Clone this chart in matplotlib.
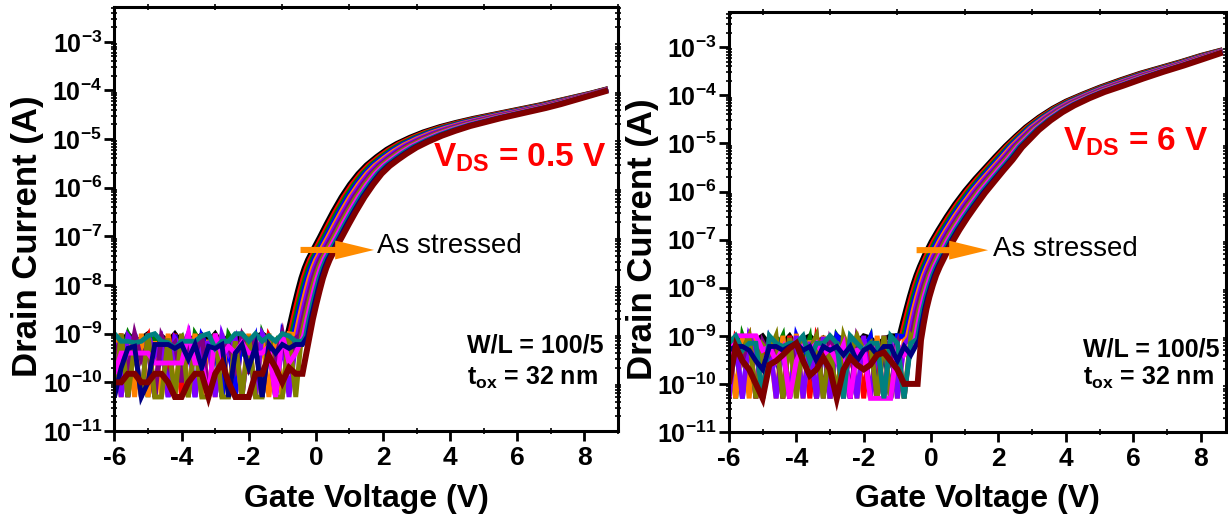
import matplotlib
matplotlib.use("Agg")
import matplotlib.pyplot as plt
from matplotlib.patches import FancyArrowPatch
from matplotlib.ticker import FixedLocator, LogLocator, MultipleLocator, NullFormatter
import numpy as np

plt.rcParams['font.family'] = ['Liberation Sans', 'DejaVu Sans']
plt.rcParams['font.weight'] = 'bold'
plt.rcParams['axes.labelweight'] = 'bold'
plt.rcParams['mathtext.default'] = 'regular'
plt.rcParams['axes.unicode_minus'] = False

# curve colours in stress order (first = fresh device, last = most stressed)
colors = ['#000000', '#FF0000', '#008000', '#0000FF', '#FF8000', '#8000FF',
          '#800080', '#808000', '#FF00FF', '#008080', '#000080', '#800000']
# how far each curve has moved from the fresh curve towards the last one
stress_frac = [0.0, 0.1, 0.19, 0.28, 0.37, 0.46, 0.55, 0.64, 0.73, 0.82, 0.91, 1.0]

# off-state current, one char per 0.2 V step from -6 V
# value = (int(c, 36) + 1) * 5e-11 A  ('0' = 5e-11, 'j' = 1e-9)
vg_off_start = -6.0
vg_off_step = 0.2

left_off = [
    "hcjdfjbhdjcgeidjbhcjdgjfbhjdj",
    "5j0f9h0c3j0e7b0i5d0j2f0h9c0j0",
    "b6j9d0j5c9f0jb6d0ia7c0j8d0h50",
    "9c0j6a0f0i3c0h9b0e0j5f0c0j7a0",
    "j0f0j0d0j0h0j0e0j0b0j0i0f0j00",
    "c0hb0j6e0f9j0bc0i7f0d0jb0f0c0",
    "7d2j5b0h8c1f6j0d9b3h7e0c5j2f9",
    "0j0a0j00f0j0b00j00d0h00j00j00",
    "27777744444j440j6a7c777a0j470",
    "jddcdhjdc9dddhj9ddjjdjdhdjhdd",
    "039a01bbb9b5b3a9b07b3a0b7b9bb",
    "11221122100122024100022631322",
]
right_off = [
    "dhjbfjchdjbgjdhcjfbdjhcgjdjbf",
    "0h9j0c5f0j3d0i7b0j5e0h2c0f8j0",
    "d0j7b0e9j0c6h0f0jb0d8i0c0j7e0",
    "7b0jc0f5h0j8b0e0jd0c9i0f0j6b0",
    "j0h0k0d0j0l0f0j0e0k0c0j0h0f00",
    "0f0j90h0c0j0e0i0b0f0j0d0h0c00",
    "9c5j0e7b0h3d9j0f6c0i8b0j5d0f0",
    "7d9j0c8j0h0f9j0b0j7j9d0j0c0j0",
    "5jjjj9b5a05b9d7a5c09a0000c7b0",
    "dj9dd0jdbddj5ddjd0jd9dd0jd0dd",
    "9bb953bb9bd9b5b9b7b59b7bb5b7b",
    "1b5310457ad523630364347853111",
]

# on-state branch, fresh curve and most stressed curve: Vg (V), log10(Id)
left_fresh_vg = [-0.85, -0.75, -0.65, -0.55, -0.45, -0.35, -0.25, -0.1, 0.1, 0.3,
                 0.5, 0.75, 1.0, 1.25, 1.5, 1.8, 2.1, 2.4, 2.8, 3.2,
                 3.7, 4.2, 4.7, 5.2, 5.7, 6.2, 6.7, 7.2, 7.7, 8.2, 8.7]
left_fresh_log = [-9.0, -8.7, -8.4, -8.12, -7.86, -7.65, -7.48, -7.28, -7.02, -6.75,
                  -6.49, -6.19, -5.93, -5.71, -5.53, -5.36, -5.21, -5.09, -4.96, -4.85,
                  -4.74, -4.65, -4.57, -4.5, -4.43, -4.36, -4.29, -4.21, -4.13, -4.05, -3.96]
left_last_vg = [-0.19, -0.09, 0.01, 0.11, 0.21, 0.31, 0.41, 0.56, 0.77, 0.98,
                1.19, 1.45, 1.71, 1.96, 2.2, 2.45, 2.7, 3.0, 3.35, 3.75,
                4.15, 4.6, 5.05, 5.5, 5.95, 6.4, 6.85, 7.3, 7.75, 8.2, 8.7]
left_last_log = [-9.06, -8.7, -8.4, -8.12, -7.86, -7.65, -7.48, -7.28, -7.02, -6.75,
                 -6.49, -6.19, -5.93, -5.71, -5.55, -5.42, -5.3, -5.17, -5.05, -4.93,
                 -4.83, -4.73, -4.65, -4.57, -4.5, -4.43, -4.36, -4.28, -4.19, -4.1, -4.0]

right_fresh_vg = [-0.95, -0.85, -0.75, -0.65, -0.55, -0.45, -0.35, -0.2, 0.0, 0.2,
                  0.45, 0.7, 1.0, 1.3, 1.6, 1.9, 2.2, 2.5, 2.8, 3.2,
                  3.6, 4.0, 4.5, 5.0, 5.6, 6.2, 6.8, 7.4, 8.0, 8.65]
right_fresh_log = [-9.0, -8.72, -8.45, -8.19, -7.95, -7.74, -7.56, -7.32, -7.04, -6.8,
                   -6.52, -6.26, -5.98, -5.73, -5.5, -5.27, -5.05, -4.85, -4.66, -4.45,
                   -4.27, -4.12, -3.97, -3.83, -3.68, -3.54, -3.42, -3.3, -3.17, -3.05]
right_last_vg = [-0.3, -0.22, -0.14, -0.05, 0.05, 0.15, 0.26, 0.43, 0.64, 0.84,
                 1.08, 1.32, 1.6, 1.88, 2.15, 2.42, 2.7, 2.95, 3.2, 3.55,
                 3.9, 4.25, 4.7, 5.15, 5.7, 6.3, 6.9, 7.5, 8.1, 8.65]
right_last_log = [-9.09, -8.75, -8.45, -8.19, -7.95, -7.74, -7.56, -7.32, -7.04, -6.8,
                  -6.54, -6.3, -6.03, -5.79, -5.56, -5.34, -5.08, -4.9, -4.72, -4.52,
                  -4.35, -4.21, -4.06, -3.93, -3.8, -3.65, -3.51, -3.38, -3.24, -3.11]

decades = list(range(-11, -2))
orange = '#FF8C00'


def draw_panel(ax, off_codes, fresh_vg, fresh_log, last_vg, last_log, xmax, ymax):
    fresh_vg = np.array(fresh_vg)
    fresh_log = np.array(fresh_log)
    last_vg = np.array(last_vg)
    last_log = np.array(last_log)
    for k, code in enumerate(off_codes):
        f = stress_frac[k]
        on_vg = (1 - f) * fresh_vg + f * last_vg
        on_log = (1 - f) * fresh_log + f * last_log
        off_vg = vg_off_start + vg_off_step * np.arange(len(code))
        off_i = np.array([(int(c, 36) + 1) * 5e-11 for c in code])
        keep = off_vg < on_vg[0] - 0.05
        vg = np.concatenate([off_vg[keep], on_vg])
        cur = np.concatenate([off_i[keep], 10.0 ** on_log])
        lw = 4.3 if k == len(off_codes) - 1 else 3.5
        ax.plot(vg, cur, color=colors[k], lw=lw, solid_joinstyle='miter',
                solid_capstyle='butt', zorder=2 + k * 0.01)

    ax.set_yscale('log')
    ax.set_xlim(-6, xmax)
    ax.set_ylim(1e-11, ymax)
    ax.yaxis.set_major_locator(FixedLocator([10.0 ** e for e in decades]))
    ax.set_yticklabels(['$10^{%d}$' % e for e in decades])
    ax.yaxis.set_minor_locator(LogLocator(base=10, subs=np.arange(2, 10), numticks=30))
    ax.yaxis.set_minor_formatter(NullFormatter())
    ax.xaxis.set_major_locator(MultipleLocator(2))
    ax.xaxis.set_minor_locator(MultipleLocator(1))
    ax.tick_params(which='major', direction='out', length=7, width=2,
                   labelsize=19, pad=4)
    ax.tick_params(axis='y', which='major', labelsize=18, pad=2)
    ax.tick_params(which='minor', direction='inout', length=4, width=1.2,
                   top=True, right=True)
    for s in ax.spines.values():
        s.set_linewidth(2.2)
    ax.set_xlabel('Gate Voltage (V)', fontsize=23, fontweight='bold')
    ax.set_ylabel('Drain Current (A)', fontsize=25, fontweight='bold')
    ax.xaxis.set_label_coords(0.5, -0.125)
    ax.yaxis.set_label_coords(-0.14, 0.46)


fig = plt.figure(figsize=(12.28, 5.23), dpi=100)
ax1 = fig.add_axes([0.0932, 0.1759, 0.4101, 0.8107])
ax2 = fig.add_axes([0.5936, 0.1740, 0.4047, 0.8030])

draw_panel(ax1, left_off, left_fresh_vg, left_fresh_log, left_last_vg, left_last_log,
           9.0, 5.2e-3)
draw_panel(ax2, right_off, right_fresh_vg, right_fresh_log, right_last_vg, right_last_log,
           8.75, 5.4e-3)

ax1.text(0.633, 0.623, 'V$_{DS}$ = 0.5 V', color='#FF0000', fontsize=24,
         transform=ax1.transAxes, ha='left', va='baseline')
ax2.text(0.672, 0.671, 'V$_{DS}$ = 6 V', color='#FF0000', fontsize=24,
         transform=ax2.transAxes, ha='left', va='baseline')

for ax, tx, ty, x0, x1, ay, wx, wy, ty2 in [
        (ax1, 0.521, 0.420, 0.364, 0.521, 0.427, 0.70, 0.186, 0.108),
        (ax2, 0.531, 0.419, 0.372, 0.527, 0.433, 0.712, 0.179, 0.112)]:
    ax.text(tx, ty, 'As stressed', fontsize=20, fontweight='normal',
            transform=ax.transAxes, ha='left', va='baseline', zorder=5)
    arrow = FancyArrowPatch((x0, ay), (x1, ay), transform=ax.transAxes,
                            arrowstyle='simple,head_length=1.4,head_width=0.68,tail_width=0.22',
                            mutation_scale=20, color=orange, lw=0, zorder=6)
    ax.add_patch(arrow)
    ax.text(wx, wy, 'W/L = 100/5', fontsize=18, transform=ax.transAxes,
            ha='left', va='baseline')
    ax.text(wx, ty2, 't$_{ox}$ = 32 nm', fontsize=18, transform=ax.transAxes,
            ha='left', va='baseline')

fig.savefig('out.png', dpi=100)
